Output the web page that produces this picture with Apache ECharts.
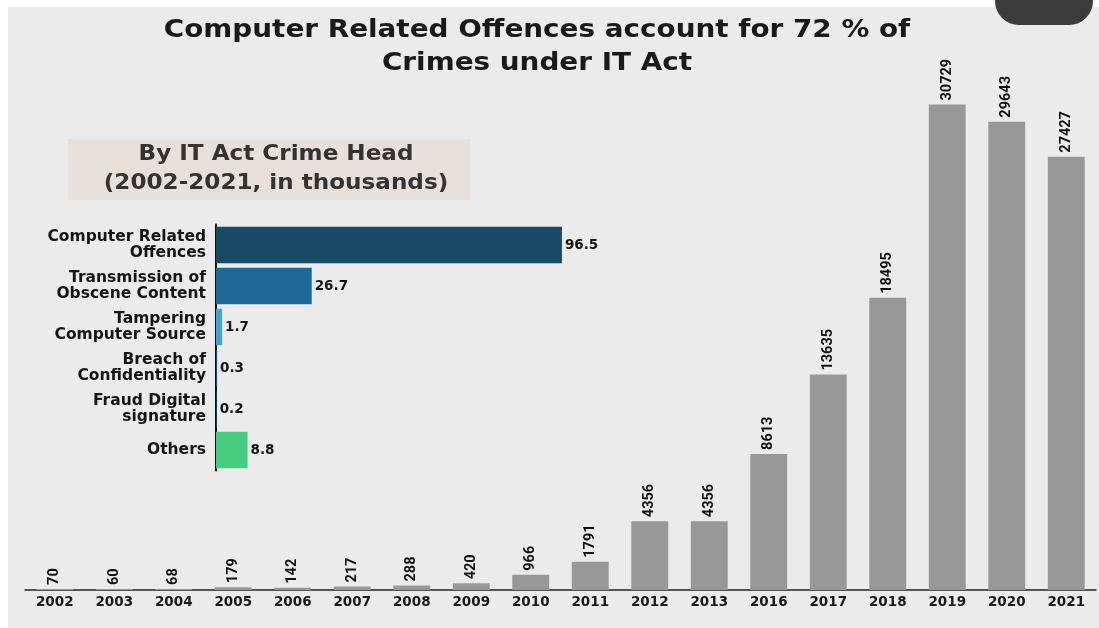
<!DOCTYPE html>
<html>
<head>
<meta charset="utf-8">
<script src="https://cdn.jsdelivr.net/npm/echarts@6/dist/echarts.min.js"></script>
<style>
html,body{margin:0;padding:0;background:#ffffff;}
#chart{width:1099px;height:628px;}
</style>
</head>
<body>
<div id="chart"></div>
<script>
// Yearly cases under IT Act
var years = ['2002','2003','2004','2005','2006','2007','2008','2009','2010','2011','2012','2013','2016','2017','2018','2019','2020','2021'];
var cases = [70, 60, 68, 179, 142, 217, 288, 420, 966, 1791, 4356, 4356, 8613, 13635, 18495, 30729, 29643, 27427];

// By IT Act crime head (2002-2021, in thousands)
var heads = ['Computer Related\nOffences', 'Transmission of\nObscene Content', 'Tampering\nComputer Source', 'Breach of\nConfidentiality', 'Fraud Digital\nsignature', 'Others'];
var headValues = [96.5, 26.7, 1.7, 0.3, 0.2, 8.8];
var headColors = ['#1b4a64', '#1e6898', '#48a2d8', '#1b4a64', '#1b4a64', '#48cc80'];

var titleText = 'Computer Related Offences account for 72 % of\nCrimes under IT Act';
var insetTitle = 'By IT Act Crime Head\n(2002-2021, in thousands)';

var chart = echarts.init(document.getElementById('chart'), null, {renderer: 'canvas'});

var option = {
  animation: false,
  backgroundColor: '#ffffff',
  graphic: [
    {type: 'rect', z: -10, silent: true, shape: {x: 8, y: 7, width: 1091, height: 621}, style: {fill: '#ebebeb'}},
    {type: 'rect', z: 10, silent: true, shape: {x: 995, y: -25, width: 98, height: 50, r: 24}, style: {fill: '#3b3b3b'}},
    {type: 'text', z: 10, silent: true, x: 537, y: 47, scaleX: 1.16, originX: 0, originY: 0,
      style: {text: titleText, x: 0, y: 0, align: 'center', verticalAlign: 'middle',
      font: 'bold 24px "DejaVu Sans", sans-serif', lineHeight: 33, fill: '#1a1a1a'}},
    {type: 'rect', z: 1, silent: true, shape: {x: 68, y: 139, width: 402, height: 61}, style: {fill: '#e7dfda'}},
    {type: 'text', z: 2, silent: true, x: 276, y: 169.5, scaleX: 1.1, originX: 0, originY: 0,
      style: {text: insetTitle, x: 0, y: 0, align: 'center', verticalAlign: 'middle',
      font: 'bold 21px "DejaVu Sans", sans-serif', lineHeight: 29, fill: '#333333'}}
  ],
  grid: [
    {left: 25, right: 3, top: 37, bottom: 38, containLabel: false},
    {left: 216, top: 224.5, width: 358.5, height: 246, containLabel: false}
  ],
  xAxis: [
    {type: 'category', gridIndex: 0, data: years,
      axisLine: {show: true, lineStyle: {color: '#222', width: 1.5}},
      axisTick: {show: false},
      axisLabel: {color: '#1a1a1a', fontFamily: 'DejaVu Sans', fontWeight: 'bold', fontSize: 13.5, margin: 5}},
    {type: 'value', gridIndex: 1, min: 0, max: 100, show: false}
  ],
  yAxis: [
    {type: 'value', gridIndex: 0, min: 0, max: 35000, show: false},
    {type: 'category', gridIndex: 1, data: heads, inverse: true,
      axisLine: {show: true, lineStyle: {color: '#111', width: 2}},
      axisTick: {show: false},
      axisLabel: {color: '#151515', fontFamily: 'DejaVu Sans', fontWeight: 'bold', fontSize: 15.5, lineHeight: 16, margin: 10, align: 'right'}}
  ],
  series: [
    {type: 'bar', xAxisIndex: 0, yAxisIndex: 0, data: cases, barWidth: '62%',
      itemStyle: {color: '#989898'},
      label: {show: true, position: 'top', rotate: 90, align: 'left', verticalAlign: 'middle', distance: 4,
        color: '#111', fontFamily: 'Roboto, sans-serif', fontWeight: 'bold', fontSize: 14.5}},
    {type: 'bar', xAxisIndex: 1, yAxisIndex: 1, barWidth: '89%',
      data: headValues.map(function (v, i) { return {value: v, itemStyle: {color: headColors[i]}}; }),
      label: {show: true, position: 'right', distance: 3, color: '#151515', fontFamily: 'DejaVu Sans', fontWeight: 'bold', fontSize: 13.5}}
  ]
};
chart.setOption(option);
</script>
</body>
</html>
